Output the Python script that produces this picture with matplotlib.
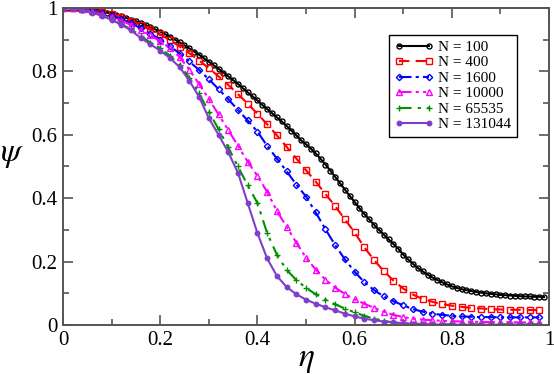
import matplotlib
matplotlib.use('Agg')
import matplotlib.pyplot as plt
import numpy as np

plt.rcParams['font.family'] = 'Liberation Serif'
plt.rcParams['mathtext.fontset'] = 'stix'

# eta grid: N=100 sampled every 0.01, the others every 0.02
eta_fine = np.arange(0, 100) / 100.0
eta = np.arange(0, 50) / 50.0

psi_100 = [1.000, 1.000, 0.999, 0.998, 0.997, 0.995, 0.993, 0.991, 0.988, 0.985,
           0.981, 0.977, 0.973, 0.968, 0.963, 0.958, 0.952, 0.946, 0.939, 0.932,
           0.925, 0.917, 0.909, 0.900, 0.891, 0.882, 0.872, 0.862, 0.852, 0.841,
           0.830, 0.819, 0.808, 0.796, 0.784, 0.772, 0.760, 0.747, 0.734, 0.721,
           0.708, 0.694, 0.681, 0.668, 0.655, 0.642, 0.628, 0.613, 0.598, 0.582,
           0.570, 0.556, 0.541, 0.524, 0.506, 0.487, 0.467, 0.447, 0.427, 0.407,
           0.388, 0.368, 0.350, 0.333, 0.316, 0.300, 0.285, 0.270, 0.255, 0.240,
           0.222, 0.207, 0.193, 0.180, 0.169, 0.159, 0.150, 0.142, 0.135, 0.128,
           0.122, 0.117, 0.113, 0.110, 0.107, 0.104, 0.102, 0.100, 0.098, 0.097,
           0.095, 0.094, 0.093, 0.092, 0.091, 0.090, 0.090, 0.089, 0.089, 0.088]

psi_400 = [1.000, 0.999, 0.997, 0.993, 0.987, 0.980, 0.971, 0.960, 0.947, 0.932,
           0.916, 0.898, 0.878, 0.857, 0.834, 0.810, 0.784, 0.757, 0.728, 0.698,
           0.666, 0.633, 0.598, 0.562, 0.525, 0.488, 0.452, 0.413, 0.375, 0.333,
           0.292, 0.245, 0.205, 0.170, 0.140, 0.115, 0.096, 0.082, 0.073, 0.066,
           0.061, 0.057, 0.054, 0.052, 0.050, 0.049, 0.048, 0.048, 0.047, 0.047]

psi_1600 = [1.000, 0.999, 0.996, 0.991, 0.984, 0.975, 0.964, 0.951, 0.936, 0.919,
            0.900, 0.879, 0.856, 0.831, 0.804, 0.775, 0.744, 0.712, 0.678, 0.645,
            0.610, 0.565, 0.525, 0.485, 0.443, 0.405, 0.355, 0.302, 0.252, 0.207,
            0.168, 0.135, 0.110, 0.090, 0.075, 0.062, 0.050, 0.042, 0.036, 0.032,
            0.029, 0.027, 0.026, 0.025, 0.025, 0.024, 0.024, 0.024, 0.024, 0.024]

psi_10000 = [1.000, 0.999, 0.995, 0.989, 0.980, 0.972, 0.960, 0.946, 0.930, 0.913,
             0.895, 0.873, 0.845, 0.805, 0.760, 0.713, 0.664, 0.615, 0.565, 0.515,
             0.470, 0.420, 0.360, 0.310, 0.260, 0.212, 0.175, 0.143, 0.118, 0.098,
             0.081, 0.067, 0.054, 0.042, 0.032, 0.025, 0.020, 0.017, 0.015, 0.013,
             0.012, 0.011, 0.010, 0.010, 0.009, 0.009, 0.009, 0.008, 0.008, 0.008]

psi_65535 = [1.000, 0.998, 0.993, 0.986, 0.976, 0.964, 0.949, 0.932, 0.912, 0.890,
             0.873, 0.849, 0.820, 0.779, 0.730, 0.672, 0.618, 0.560, 0.500, 0.440,
             0.385, 0.290, 0.222, 0.174, 0.142, 0.117, 0.097, 0.080, 0.065, 0.052,
             0.040, 0.029, 0.020, 0.013, 0.008, 0.005, 0.004, 0.003, 0.002, 0.002,
             0.002, 0.002, 0.002, 0.002, 0.002, 0.002, 0.002, 0.002, 0.002, 0.002]

psi_131044 = [1.000, 0.998, 0.993, 0.985, 0.975, 0.962, 0.947, 0.929, 0.905, 0.885,
              0.865, 0.842, 0.813, 0.770, 0.720, 0.652, 0.600, 0.545, 0.480, 0.385,
              0.290, 0.210, 0.155, 0.120, 0.097, 0.080, 0.067, 0.056, 0.046, 0.036,
              0.027, 0.020, 0.015, 0.011, 0.008, 0.006, 0.004, 0.003, 0.002, 0.001,
              0.001, 0.001, 0.001, 0.001, 0.001, 0.001, 0.001, 0.001, 0.001, 0.001]

labels = ['N = 100', 'N = 400', 'N = 1600', 'N = 10000', 'N = 65535', 'N = 131044']

fig = plt.figure(figsize=(5.54, 3.74), dpi=100)
ax = fig.add_axes([0.1137, 0.131, 0.8773, 0.848])

ax.plot(eta_fine, psi_100, color='black', ls='-', lw=1.5, marker='o', ms=3.6,
        mfc='none', mec='black', mew=1.0, label=labels[0])
ax.plot(eta, psi_400, color='red', ls=(0, (5, 3)), lw=1.5, marker='s', ms=4,
        mfc='none', mec='red', mew=1.0, label=labels[1])
ax.plot(eta, psi_1600, color='blue', ls=(0, (6, 2, 1.5, 2)), lw=1.5, marker='D', ms=3.2,
        mfc='none', mec='blue', mew=1.0, label=labels[2])
ax.plot(eta, psi_10000, color='magenta', ls=(0, (6, 2, 1.5, 2, 1.5, 2)), lw=1.5, marker='^', ms=4,
        mfc='none', mec='magenta', mew=1.0, label=labels[3])
ax.plot(eta, psi_65535, color='#009000', ls=(0, (6, 3, 1.5, 3)), lw=1.5, marker='+', ms=4.5,
        mec='#009000', mew=1.0, label=labels[4])
ax.plot(eta, psi_131044, color='#7f3fc8', ls='-', lw=1.5, marker='o', ms=3.2,
        mfc='#7f3fc8', mec='#7f3fc8', label=labels[5])

ax.set_xlim(0, 1)
ax.set_ylim(0, 1)
ax.set_xticks([0, 0.2, 0.4, 0.6, 0.8, 1.0])
ax.set_xticklabels(['0', '0.2', '0.4', '0.6', '0.8', '1'])
ax.set_yticks([0, 0.2, 0.4, 0.6, 0.8, 1.0])
ax.set_yticklabels(['0', '0.2', '0.4', '0.6', '0.8', '1'])
ax.set_xticks(np.arange(1, 10, 2) / 10.0, minor=True)
ax.set_yticks(np.arange(1, 10, 2) / 10.0, minor=True)

axis_col = '#555555'
for s in ax.spines.values():
    s.set_color(axis_col)
    s.set_linewidth(1.4)
ax.tick_params(which='both', direction='in', top=True, right=True, color=axis_col,
               width=1.2, labelsize=15, pad=4)
ax.tick_params(which='major', length=7)
ax.tick_params(which='minor', length=4)

ax.set_xlabel(r'$\eta$', fontsize=24)
ax.xaxis.set_label_coords(0.5, -0.06)
ax.set_ylabel(r'$\psi$', fontsize=24, rotation=0, labelpad=10)
ax.yaxis.set_label_coords(-0.105, 0.49)

leg = ax.legend(loc='upper right', bbox_to_anchor=(0.934, 0.915), fontsize=11,
                fancybox=False, edgecolor='black', framealpha=1, borderaxespad=0,
                handlelength=2.6, labelspacing=0.12, borderpad=0.35,
                handletextpad=0.3, numpoints=2)
leg.get_frame().set_linewidth(1.0)

fig.savefig('out.png', dpi=100)
